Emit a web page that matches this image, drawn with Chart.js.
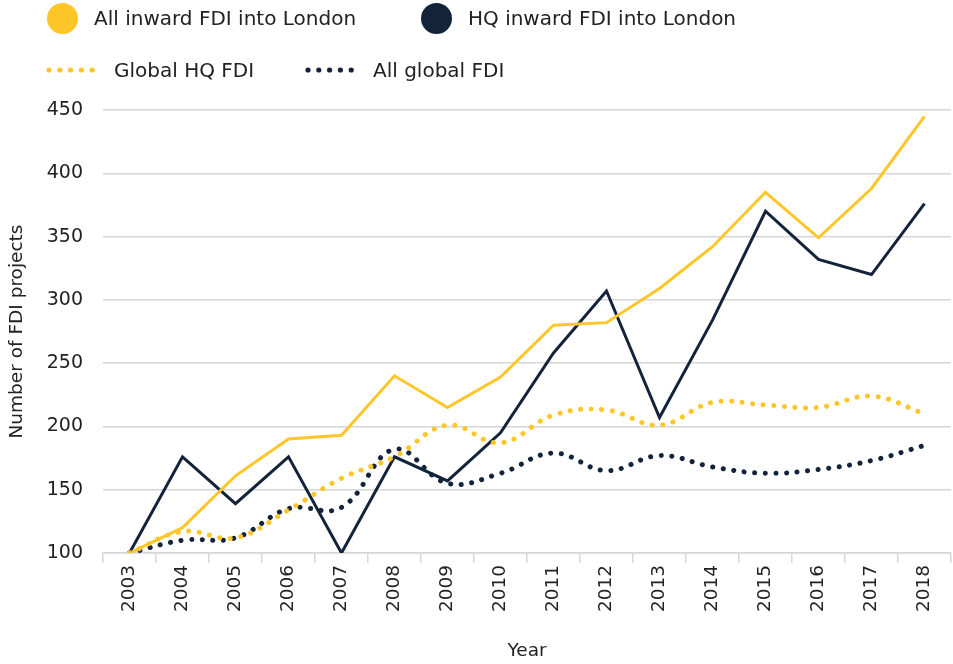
<!DOCTYPE html>
<html>
<head>
<meta charset="utf-8">
<script src="https://cdn.jsdelivr.net/npm/chart.js@4.4.1/dist/chart.umd.min.js"></script>
<style>
  html, body { margin: 0; padding: 0; background: #fff; }
  body { width: 953px; height: 664px; position: relative; overflow: hidden; font-family: "DejaVu Sans", sans-serif; color: #222; }
  #wrap { position: absolute; left: 0; top: 0; width: 953px; height: 664px; }
  .legend-item { position: absolute; display: flex; align-items: center; font-size: 20px; white-space: nowrap; height: 32px; }
  .dot { width: 31px; height: 31px; border-radius: 50%; margin-right: 16px; }
  .dots { width: 50px; height: 6px; margin-right: 18px; }
</style>
</head>
<body>
<div id="wrap"><canvas id="fdiChart" width="953" height="664"></canvas></div>
<div class="legend-item" style="left:47px; top:2px;"><span class="dot" style="background:#FFC629"></span>All inward FDI into London</div>
<div class="legend-item" style="left:421px; top:2px;"><span class="dot" style="background:#13243A"></span>HQ inward FDI into London</div>
<div class="legend-item" style="left:46px; top:54px;"><canvas class="dots" id="lg1" width="50" height="6"></canvas>Global HQ FDI</div>
<div class="legend-item" style="left:305px; top:54px;"><canvas class="dots" id="lg2" width="50" height="6"></canvas>All global FDI</div>
<script>
// Data
const years = ['2003', '2004', '2005', '2006', '2007', '2008', '2009', '2010',
               '2011', '2012', '2013', '2014', '2015', '2016', '2017', '2018'];
const allInwardLondon = [100, 120, 161, 190, 193, 240, 215, 239, 280, 282, 309, 342, 385, 349, 388, 445];
const hqInwardLondon  = [100, 176, 139, 176, 100, 176, 157, 195, 258, 307, 207, 284, 370, 332, 320, 376];
const globalHq        = [100, 117, 112, 134, 159, 176, 201, 187, 209, 213, 201, 219, 217, 215, 224, 210];
const allGlobal       = [100, 110, 112, 135, 136, 182, 155, 163, 179, 165, 177, 168, 163, 166, 173, 185];
const yTicks = [100, 150, 200, 250, 300, 350, 400, 450];

const YELLOW = '#FFC629';
const NAVY = '#13243A';
const TEXT = '#222222';
const GRID = '#d6d6d6';

// Legend dotted swatches
function drawDots(id, color) {
    const ctx = document.getElementById(id).getContext('2d');
    ctx.fillStyle = color;
    for (let i = 0; i < 5; i++) {
        ctx.beginPath();
        ctx.arc(3 + i * 10.8, 3, 2.6, 0, Math.PI * 2);
        ctx.fill();
    }
}
drawDots('lg1', YELLOW);
drawDots('lg2', NAVY);

const fontFamily = '"DejaVu Sans", sans-serif';

new Chart(document.getElementById('fdiChart').getContext('2d'), {
    type: 'line',
    data: {
        labels: years,
        datasets: [
            {
                label: 'Global HQ FDI',
                data: globalHq,
                borderColor: YELLOW,
                borderWidth: 5,
                borderDash: [0.1, 10.5],
                borderCapStyle: 'round',
                tension: 0.4,
                pointRadius: 0
            },
            {
                label: 'All global FDI',
                data: allGlobal,
                borderColor: NAVY,
                borderWidth: 5,
                borderDash: [0.1, 10.5],
                borderCapStyle: 'round',
                tension: 0.4,
                pointRadius: 0
            },
            {
                label: 'All inward FDI into London',
                data: allInwardLondon,
                borderColor: YELLOW,
                borderWidth: 3,
                tension: 0,
                pointRadius: 0
            },
            {
                label: 'HQ inward FDI into London',
                data: hqInwardLondon,
                borderColor: NAVY,
                borderWidth: 3,
                tension: 0,
                pointRadius: 0
            }
        ]
    },
    options: {
        responsive: false,
        animation: false,
        layout: { padding: { top: 110, right: 2, left: 0, bottom: 0 } },
        plugins: {
            legend: { display: false },
            tooltip: { enabled: false }
        },
        scales: {
            x: {
                offset: true,
                afterFit: scale => { scale.height = 111; },
                grid: {
                    offset: true,
                    drawOnChartArea: false,
                    drawTicks: true,
                    tickLength: 10,
                    color: GRID,
                    lineWidth: 1.5
                },
                border: { display: true, color: GRID, width: 1.5 },
                ticks: {
                    maxRotation: 90,
                    minRotation: 90,
                    color: TEXT,
                    font: { family: fontFamily, size: 18.5 },
                    padding: 2
                },
                title: {
                    display: true,
                    text: 'Year',
                    color: TEXT,
                    font: { family: fontFamily, size: 18.5 },
                    padding: { top: 0, bottom: 2 }
                }
            },
            y: {
                min: 100,
                max: 450,
                afterFit: scale => { scale.width = 103; },
                afterBuildTicks: axis => { axis.ticks = yTicks.map(v => ({ value: v })); },
                grid: {
                    drawTicks: false,
                    color: GRID,
                    lineWidth: 1.5
                },
                border: { display: false },
                ticks: {
                    color: TEXT,
                    font: { family: fontFamily, size: 19 },
                    padding: 20
                },
                title: {
                    display: true,
                    text: 'Number of FDI projects',
                    color: TEXT,
                    font: { family: fontFamily, size: 18.5 },
                    padding: { top: 6, bottom: 0 }
                }
            }
        }
    }
});
</script>
</body>
</html>
